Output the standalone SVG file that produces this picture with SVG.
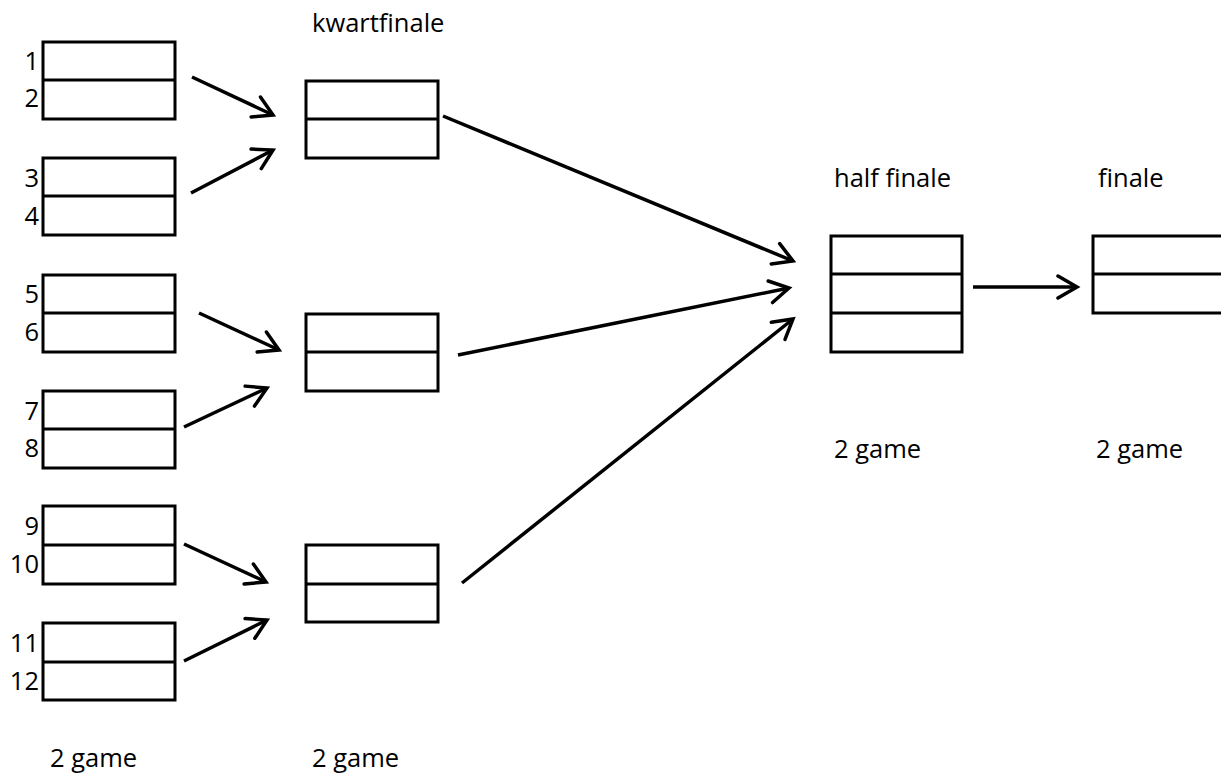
<svg xmlns="http://www.w3.org/2000/svg" width="1221" height="776" viewBox="0 0 1221 776">
<style>
.box{fill:#fff;stroke:#000;stroke-width:3}
.div{stroke:#000;stroke-width:3}
.t{font-family:"Open Sans","Liberation Sans",sans-serif;font-size:25.5px;fill:#000}
.n{font-family:"Open Sans","Liberation Sans",sans-serif;font-size:25.5px;fill:#000;text-anchor:end}
.c{stroke:#000;stroke-width:3.5;fill:none;marker-end:url(#ah)}
</style>
<defs>
<marker id="ah" markerUnits="userSpaceOnUse" viewBox="0 0 26 26" refX="22" refY="13" markerWidth="26" markerHeight="26" orient="auto">
<path d="M3,2 L22,13 L3,24" fill="none" stroke="#000" stroke-width="3.5" stroke-linecap="round"/>
</marker>
</defs>
<rect width="1221" height="776" fill="#fff"/>
<g id="labels">
<text class="t" x="312" y="32">kwartfinale</text>
<text class="t" x="834" y="187">half finale</text>
<text class="t" x="1098" y="187">finale</text>
<text class="t" x="834" y="458">2 game</text>
<text class="t" x="1096" y="458">2 game</text>
<text class="t" x="50" y="767">2 game</text>
<text class="t" x="312" y="767">2 game</text>
</g>
<g id="r1-12">
<rect class="box" x="43" y="42" width="132" height="77"/><line class="div" x1="43" y1="80" x2="175" y2="80"/>
<text class="n" x="39" y="70">1</text><text class="n" x="39" y="107">2</text>
</g>
<g id="r1-34">
<rect class="box" x="43" y="158" width="132" height="77"/><line class="div" x1="43" y1="196" x2="175" y2="196"/>
<text class="n" x="39" y="187">3</text><text class="n" x="39" y="225">4</text>
</g>
<g id="r1-56">
<rect class="box" x="43" y="275" width="132" height="77"/><line class="div" x1="43" y1="313" x2="175" y2="313"/>
<text class="n" x="39" y="303">5</text><text class="n" x="39" y="341">6</text>
</g>
<g id="r1-78">
<rect class="box" x="43" y="391" width="132" height="77"/><line class="div" x1="43" y1="429" x2="175" y2="429"/>
<text class="n" x="39" y="420">7</text><text class="n" x="39" y="457">8</text>
</g>
<g id="r1-910">
<rect class="box" x="43" y="506" width="132" height="78"/><line class="div" x1="43" y1="545" x2="175" y2="545"/>
<text class="n" x="39" y="535">9</text><text class="n" x="39" y="573">10</text>
</g>
<g id="r1-1112">
<rect class="box" x="43" y="623" width="132" height="77"/><line class="div" x1="43" y1="662" x2="175" y2="662"/>
<text class="n" x="39" y="652">11</text><text class="n" x="39" y="690">12</text>
</g>
<g id="kf1">
<rect class="box" x="306" y="81" width="132" height="77"/><line class="div" x1="306" y1="119" x2="438" y2="119"/>
</g>
<g id="kf2">
<rect class="box" x="306" y="314" width="132" height="77"/><line class="div" x1="306" y1="352" x2="438" y2="352"/>
</g>
<g id="kf3">
<rect class="box" x="306" y="545" width="132" height="77"/><line class="div" x1="306" y1="584" x2="438" y2="584"/>
</g>
<g id="hf">
<rect class="box" x="831" y="236" width="131" height="116"/>
<line class="div" x1="831" y1="274" x2="962" y2="274"/><line class="div" x1="831" y1="313" x2="962" y2="313"/>
</g>
<g id="fin">
<rect class="box" x="1093" y="236" width="140" height="77"/><line class="div" x1="1093" y1="274" x2="1233" y2="274"/>
</g>
<g id="connectors">
<line class="c" x1="192" y1="77" x2="273" y2="115"/>
<line class="c" x1="191" y1="193" x2="273" y2="150"/>
<line class="c" x1="199" y1="313" x2="279" y2="350"/>
<line class="c" x1="184" y1="427" x2="267" y2="388"/>
<line class="c" x1="184" y1="544" x2="266" y2="582"/>
<line class="c" x1="184" y1="661" x2="267" y2="620"/>
<line class="c" x1="443" y1="116" x2="793" y2="261"/>
<line class="c" x1="458" y1="355" x2="789" y2="288"/>
<line class="c" x1="462" y1="583" x2="793" y2="319"/>
<line class="c" x1="973" y1="287" x2="1077" y2="287"/>
</g>
</svg>
